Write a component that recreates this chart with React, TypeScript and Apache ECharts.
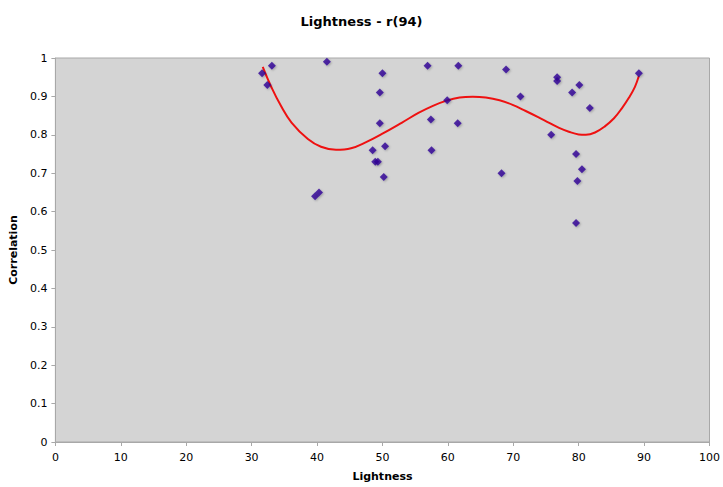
import React, { useEffect, useRef } from "react";
import * as echarts from "echarts";

const lightness = [
  31.6, 32.4, 33.1, 41.5, 39.7, 40.3,
  48.5, 48.9, 49.3, 49.6, 49.6, 50.0, 50.4, 50.2,
  56.9, 57.4, 57.5, 59.9, 61.5, 61.6,
  68.2, 68.9, 71.1, 75.8, 76.7, 76.7,
  79.0, 79.6, 79.6, 79.8, 80.1, 80.5, 81.7, 89.2,
];
const correlation = [
  0.96, 0.93, 0.98, 0.99, 0.64, 0.65,
  0.76, 0.73, 0.73, 0.91, 0.83, 0.96, 0.77, 0.69,
  0.98, 0.84, 0.76, 0.89, 0.83, 0.98,
  0.70, 0.97, 0.90, 0.80, 0.95, 0.94,
  0.91, 0.75, 0.57, 0.68, 0.93, 0.71, 0.87, 0.96,
];

const trendX = [31.7, 33.0, 34.5, 36.1, 38.6, 40.6, 42.9, 45.2, 47.5, 50.0, 53.0, 55.5, 57.8, 59.8, 61.8, 63.8, 65.8, 67.9, 69.9, 71.9, 73.8, 75.5, 77.0, 78.5, 80.0, 81.1, 82.5, 84.0, 85.4, 86.6, 87.7, 88.6, 89.2];
const trendY = [0.977, 0.925, 0.875, 0.832, 0.789, 0.769, 0.761, 0.765, 0.781, 0.803, 0.832, 0.857, 0.876, 0.889, 0.897, 0.899, 0.897, 0.890, 0.878, 0.862, 0.846, 0.831, 0.818, 0.808, 0.801, 0.800, 0.806, 0.822, 0.843, 0.869, 0.897, 0.925, 0.953];

const xTicks = [0, 10, 20, 30, 40, 50, 60, 70, 80, 90, 100];
const yTicks = [0, 0.1, 0.2, 0.3, 0.4, 0.5, 0.6, 0.7, 0.8, 0.9, 1];

export default function App() {
  const ref = useRef<HTMLDivElement>(null);
  useEffect(() => {
    if (!ref.current) return;
    const chart = echarts.init(ref.current, undefined, { renderer: "svg" });
    const font = "DejaVu Sans, Verdana, sans-serif";
    const points = lightness.map((x, i) => [x, correlation[i]]);
    const trend = trendX.map((x, i) => [x, trendY[i]]);
    chart.setOption({
      animation: false,
      backgroundColor: "#ffffff",
      title: {
        text: "Lightness - r(94)",
        left: "center",
        top: 10,
        textStyle: { fontFamily: font, fontSize: 13, fontWeight: "bold", color: "#000" },
      },
      grid: {
        left: 52,
        right: 11,
        top: 58,
        bottom: 44,
        show: true,
        backgroundColor: "#d4d4d4",
        borderColor: "#a8a8a8",
        borderWidth: 1,
      },
      xAxis: {
        type: "value",
        min: xTicks[0],
        max: xTicks[xTicks.length - 1],
        interval: 10,
        name: "Lightness",
        nameLocation: "middle",
        nameGap: 29,
        nameTextStyle: { fontFamily: font, fontSize: 11, fontWeight: "bold", color: "#000" },
        axisLine: { show: true, lineStyle: { color: "#a8a8a8" } },
        axisTick: { show: true, length: 4, lineStyle: { color: "#a8a8a8" } },
        axisLabel: { fontFamily: font, fontSize: 11, color: "#000", margin: 10 },
        splitLine: { show: false },
      },
      yAxis: {
        type: "value",
        min: yTicks[0],
        max: yTicks[yTicks.length - 1],
        interval: 0.1,
        name: "Correlation",
        nameLocation: "middle",
        nameGap: 32,
        nameRotate: 90,
        nameTextStyle: { fontFamily: font, fontSize: 11, fontWeight: "bold", color: "#000" },
        axisLine: { show: true, lineStyle: { color: "#a8a8a8" } },
        axisTick: { show: true, length: 4, lineStyle: { color: "#a8a8a8" } },
        axisLabel: {
          fontFamily: font,
          fontSize: 11,
          color: "#000",
          margin: 8,
          formatter: (v: number) => String(Math.round(v * 10) / 10),
        },
        splitLine: { show: false },
      },
      series: [
        {
          type: "line",
          data: trend,
          smooth: 0.4,
          showSymbol: false,
          lineStyle: { color: "#ee1111", width: 2 },
          z: 2,
        },
        {
          type: "scatter",
          data: points,
          symbol: "diamond",
          symbolSize: 8,
          itemStyle: {
            color: "#2e0096",
            shadowColor: "rgba(0,0,0,0.3)",
            shadowBlur: 2,
            shadowOffsetX: 1,
            shadowOffsetY: 1,
          },
          z: 3,
        },
      ],
    });
    return () => chart.dispose();
  }, []);
  return (
    <div
      ref={ref}
      style={{ position: "absolute", left: 0, top: 0, width: 723, height: 487 }}
    />
  );
}
